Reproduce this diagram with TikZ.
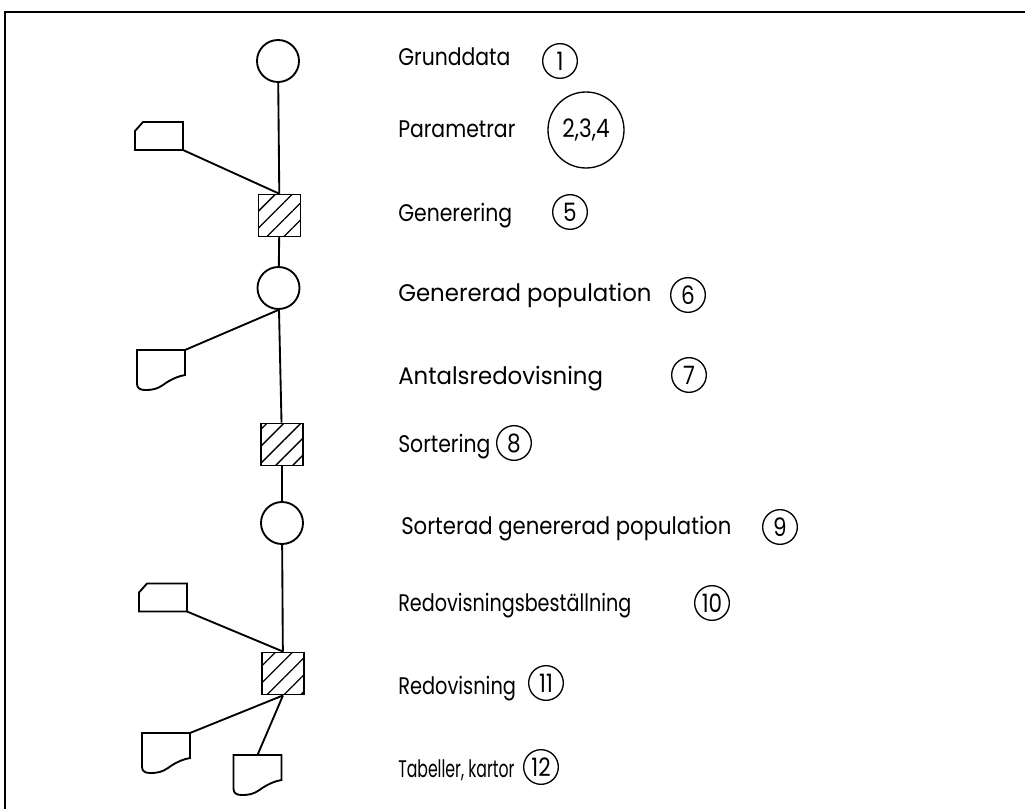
\documentclass[tikz,border=0pt]{standalone}
\usepackage{fontspec}
\usepackage{graphicx}
\setmainfont{Poppins}[FakeStretch=0.85]
\usetikzlibrary{patterns.meta}
\tikzset{
  store/.style={circle, draw, line width=1.4pt, minimum size=31.5pt, inner sep=0pt},
  proc/.style={rectangle, draw, line width=1.4pt, minimum size=31.5pt, inner sep=0pt,
    pattern={Lines[angle=45,distance=9pt,line width=1pt]}},
  lbl/.style={anchor=base west, inner sep=0pt, font=\fontsize{18}{21}\selectfont},
  num/.style={circle, draw, line width=1pt, minimum size=26pt, inner sep=0pt, font=\fontsize{19}{22}\selectfont},
  conn/.style={line width=1.4pt},
  card/.pic={
    \draw[line width=1.4pt] (-24,-5) -- (-16,-14) -- (24,-14) -- (24,14) -- (-24,14) -- cycle;
    \coordinate (-br) at (24,14);
  },
  docu/.pic={
    \draw[line width=1.4pt] (-24,-20) -- (24,-20) -- (24,5)
      .. controls (18,6) and (10,9) .. (2,15)
      .. controls (-4,19) and (-8,20) .. (-16,20)
      .. controls (-21,20) and (-24,18) .. (-24,14) -- cycle;
    \coordinate (-tr) at (24,-20);
    \coordinate (-top) at (0,-20);
  }
}
\begin{document}
\begin{tikzpicture}[x=0.75pt,y=-0.75pt]
\useasboundingbox (0,0) rectangle (1025,809);
\draw[line width=1.6pt] (1025,12) -- (5,12) -- (5,809);

% main column
\node[store] (c1) at (278,61) {};
\node[proc]  (s1) at (279.5,215.5) {};
\node[store] (c2) at (278.5,288) {};
\node[proc]  (s2) at (282,444.5) {};
\node[store] (c3) at (282,523) {};
\node[proc]  (s3) at (283,673.5) {};

% side symbols
\pic (k1) at (159,136) {card};
\pic (d2) at (161,370) {docu};
\pic (k2) at (163,597.5) {card};
\pic (d3) at (166,753) {docu};
\pic (d4) at (257.5,775) {docu};

% connectors
\draw[conn] (c1) -- (s1);
\draw[conn] (k1-br) -- (s1.north);
\draw[conn] (s1) -- (c2);
\draw[conn] (c2) -- (s2);
\draw[conn] (d2-tr) -- (c2.south);
\draw[conn] (s2) -- (c3);
\draw[conn] (c3) -- (s3);
\draw[conn] (k2-br) -- (s3.north);
\draw[conn] (s3.south) -- (d3-tr);
\draw[conn] (s3.south) -- (d4-top);

% labels
\node[lbl] (t1) at (398,66) {Grunddata};
\node[lbl] (t2) at (398,138) {Parametrar};
\node[lbl] (t3) at (398,222) {Generering};
\node[lbl] (t4) at (398,302) {\scalebox{1.12}[1]{Genererad population}};
\node[lbl] (t5) at (398,384) {\scalebox{1.12}[1]{Antalsredovisning}};
\node[lbl] (t6) at (398,452) {Sortering};
\node[lbl] (t7) at (401,534) {\scalebox{1.04}[1]{Sorterad genererad population}};
\node[lbl] (t8) at (398,611) {\scalebox{0.94}[1]{Redovisningsbeställning}};
\node[lbl] (t9) at (398,694) {\scalebox{0.95}[1]{Redovisning}};
\node[lbl] (t10) at (398,777) {\scalebox{0.77}[1]{Tabeller, kartor}};

% numbers
\node[num] (n1) at (560,61) {1};
\node[num, minimum size=57pt] (n2) at (586,130) {2,3,4};
\node[num] (n3) at (570,212) {5};
\node[num] (n4) at (688,295) {6};
\node[num] (n5) at (689,375) {7};
\node[num] (n6) at (514,443) {8};
\node[num] (n7) at (780,527) {9};
\node[num] (n8) at (712,603) {10};
\node[num] (n9) at (546,683) {11};
\node[num] (n10) at (541,767) {12};
\end{tikzpicture}
\end{document}
